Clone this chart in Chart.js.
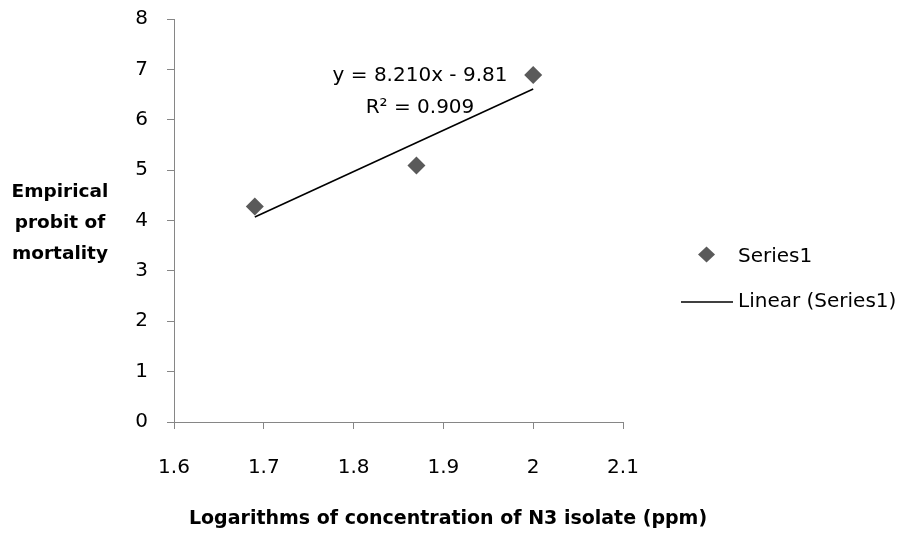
<!DOCTYPE html>
<html>
<head>
<meta charset="utf-8">
<script src="https://cdn.jsdelivr.net/npm/chart.js@4.4.1/dist/chart.umd.min.js"></script>
<style>
  html, body { margin: 0; background: #fff; }
  #wrap { width: 903px; height: 533px; position: relative; }
</style>
</head>
<body>
<div id="wrap"><canvas id="grafico"></canvas></div>
<script>
// -------------------------
// Dados
// -------------------------
const logConc = [1.69, 1.87, 2.0];
const probit = [4.28, 5.09, 6.89];
const trendX = [1.69, 2.0];
const trendY = [4.07, 6.61];
const xTicks = [1.6, 1.7, 1.8, 1.9, 2, 2.1];
const yTicks = [0, 1, 2, 3, 4, 5, 6, 7, 8];

const seriesName = "Series1";
const trendName = "Linear (Series1)";
const eqLabel = "y = 8.210x - 9.81";
const r2Label = "R² = 0.909";
const xTitle = "Logarithms of concentration of N3 isolate (ppm)";
const yTitle = ["Empirical", "probit of", "mortality"];

const FONT = "'DejaVu Sans', sans-serif";
const AXIS = "#868686";
const MARK = "#5a5a5a";

// -------------------------
// Textos extras (titulos, legenda, equacao)
// -------------------------
const textos = {
  id: "textos",
  afterDraw(chart) {
    const ctx = chart.ctx;
    ctx.save();
    ctx.fillStyle = "#000";
    ctx.textBaseline = "alphabetic";
    ctx.textAlign = "center";

    // equacao da reta
    ctx.font = `20px ${FONT}`;
    ctx.fillText(eqLabel, 420, 81);
    ctx.fillText(r2Label, 420, 113);

    // titulo do eixo y (horizontal, 3 linhas)
    ctx.font = `bold 18.5px ${FONT}`;
    yTitle.forEach((t, i) => ctx.fillText(t, 60, 197 + i * 31));

    // titulo do eixo x
    ctx.font = `bold 19px ${FONT}`;
    ctx.fillText(xTitle, 448, 524);

    // legenda
    ctx.textAlign = "left";
    ctx.font = `20px ${FONT}`;
    ctx.fillStyle = MARK;
    ctx.beginPath();
    ctx.moveTo(698, 254.5);
    ctx.lineTo(706.5, 246.5);
    ctx.lineTo(715, 254.5);
    ctx.lineTo(706.5, 262.5);
    ctx.closePath();
    ctx.fill();
    ctx.fillStyle = "#000";
    ctx.fillText(seriesName, 738, 262);

    ctx.strokeStyle = "#000";
    ctx.lineWidth = 1.5;
    ctx.beginPath();
    ctx.moveTo(681, 302);
    ctx.lineTo(733, 302);
    ctx.stroke();
    ctx.fillText(trendName, 738, 307);

    ctx.restore();
  }
};

// -------------------------
// Grafico
// -------------------------
const eixoTicks = { color: "#000", font: { family: FONT, size: 20 }, autoSkip: false, maxRotation: 0, callback: v => String(v) };

new Chart(document.getElementById("grafico"), {
  type: "scatter",
  data: {
    datasets: [
      {
        label: trendName,
        type: "line",
        data: trendX.map((x, i) => ({ x, y: trendY[i] })),
        borderColor: "#000",
        borderWidth: 1.6,
        pointRadius: 0,
        fill: false,
        order: 0
      },
      {
        label: seriesName,
        data: logConc.map((x, i) => ({ x, y: probit[i] })),
        pointStyle: "rectRot",
        pointRadius: 9,
        backgroundColor: MARK,
        borderColor: MARK,
        borderWidth: 0,
        order: 1
      }
    ]
  },
  options: {
    responsive: true,
    maintainAspectRatio: false,
    animation: false,
    layout: { padding: { top: 19, right: 280, bottom: 0, left: 0 } },
    plugins: { legend: { display: false }, tooltip: { enabled: false } },
    scales: {
      x: {
        type: "linear",
        min: 1.6,
        max: 2.1,
        afterBuildTicks: s => { s.ticks = xTicks.map(v => ({ value: v })); },
        afterFit: s => { s.height = 111; s.paddingLeft = 0; s.paddingRight = 0; },
        ticks: { ...eixoTicks, padding: 27 },
        grid: { drawOnChartArea: false, drawTicks: true, tickLength: 7, color: AXIS },
        border: { color: AXIS, width: 1 }
      },
      y: {
        min: 0,
        max: 8,
        afterBuildTicks: s => { s.ticks = yTicks.map(v => ({ value: v })); },
        afterFit: s => { s.width = 174; s.paddingTop = 0; s.paddingBottom = 0; },
        ticks: { ...eixoTicks, padding: 19 },
        grid: { drawOnChartArea: false, drawTicks: true, tickLength: 7, color: AXIS },
        border: { color: AXIS, width: 1 }
      }
    }
  },
  plugins: [textos]
});
</script>
</body>
</html>
